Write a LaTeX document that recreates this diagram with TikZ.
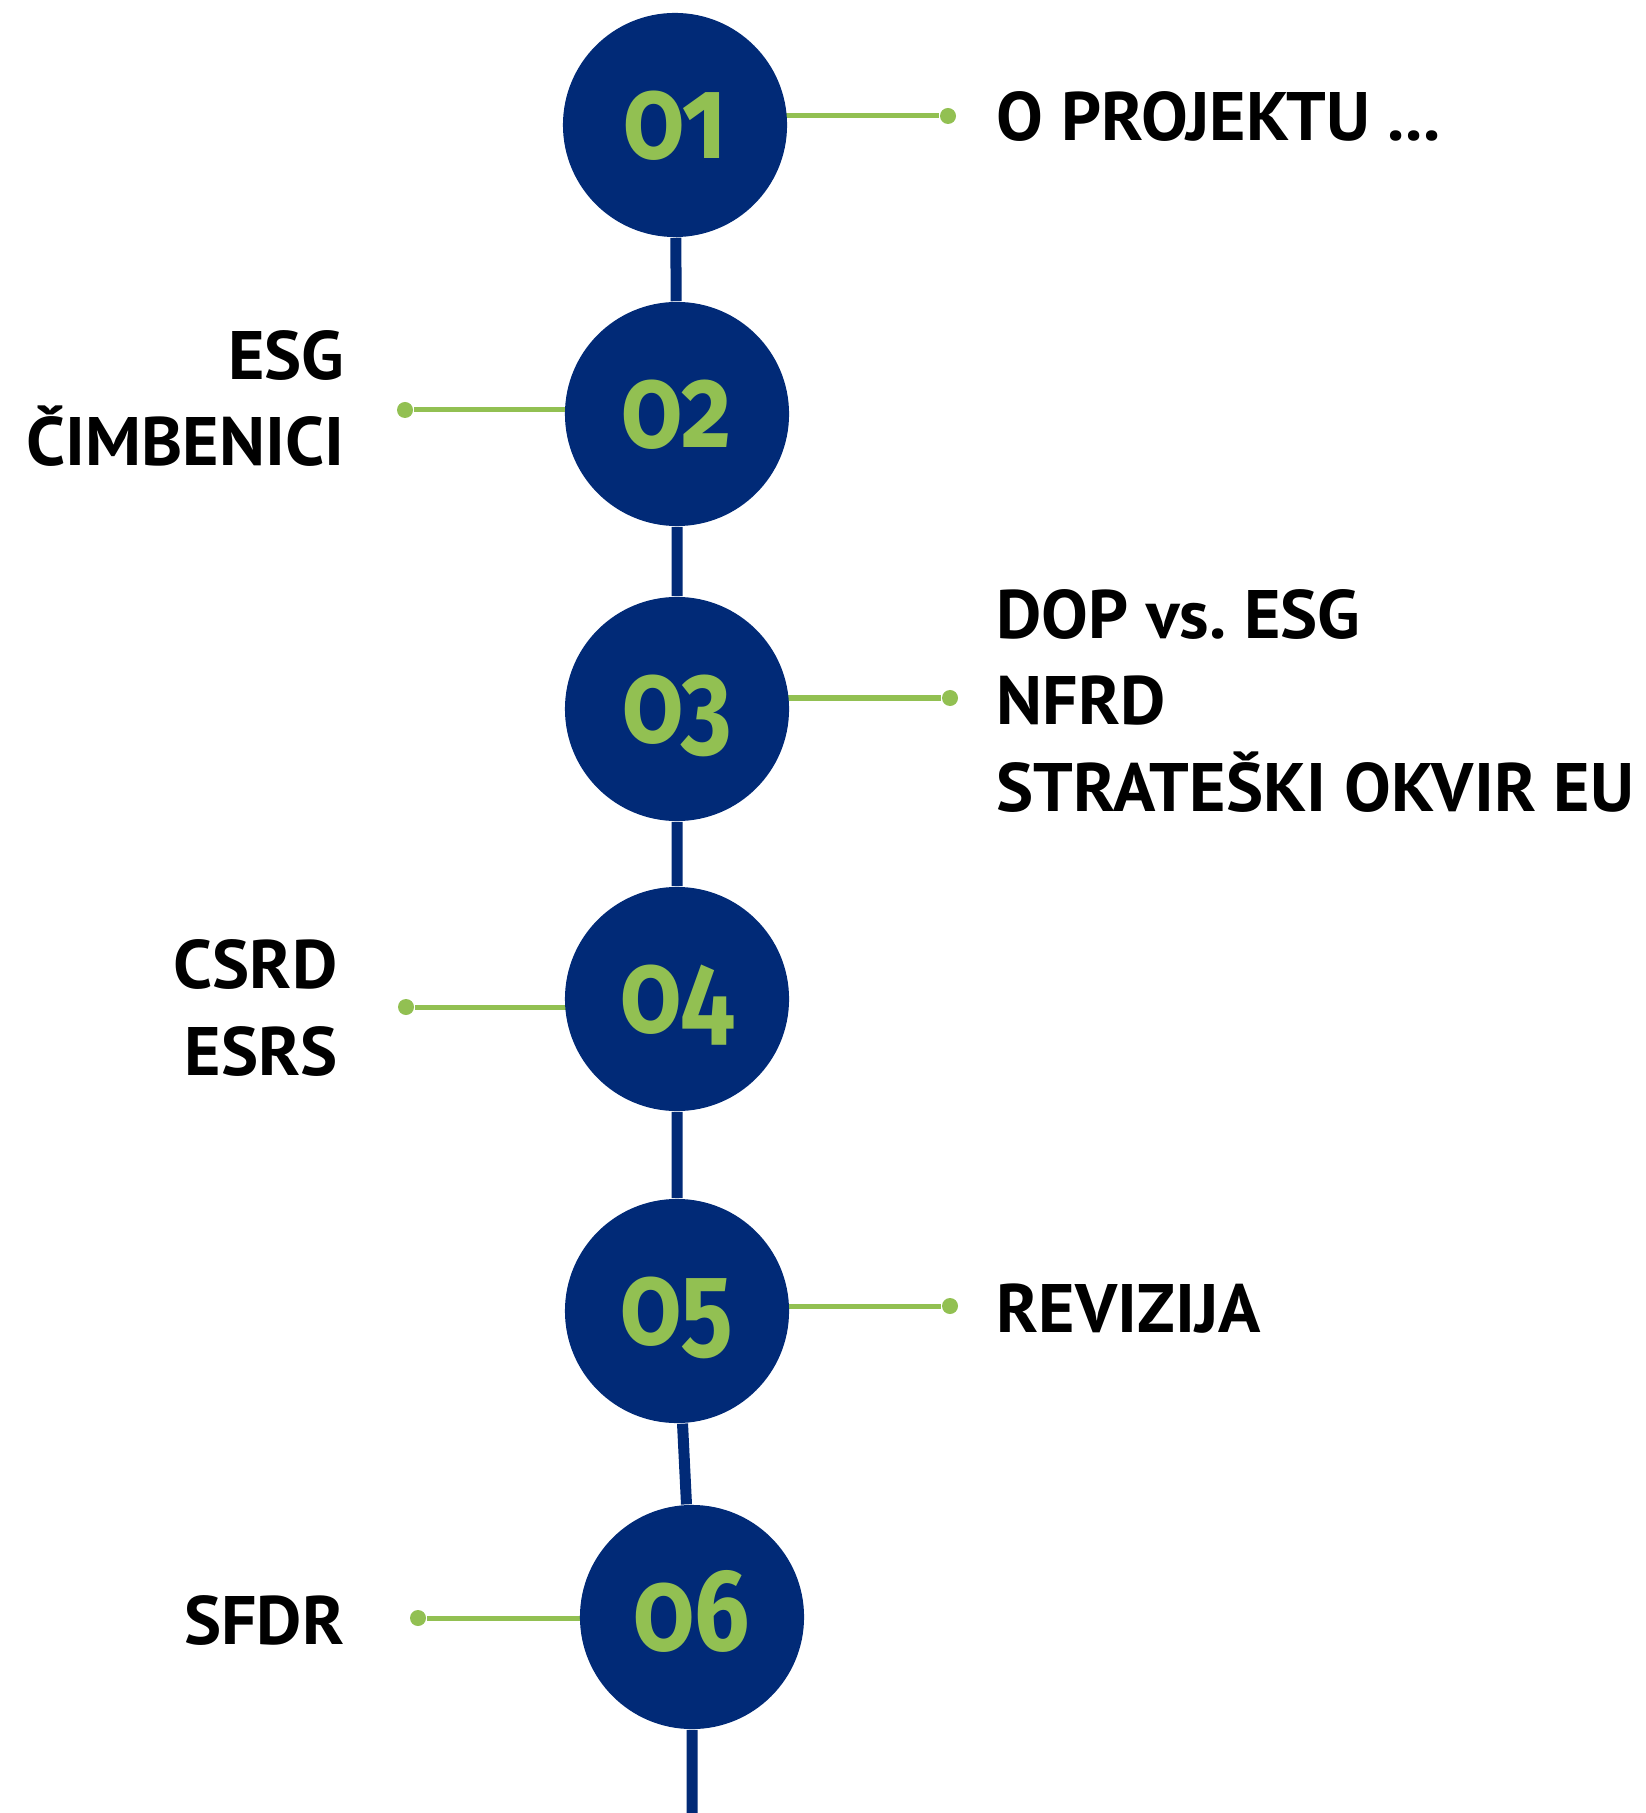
\documentclass[tikz,border=0pt]{standalone}
\usepackage{fontspec}
\setmainfont[FakeStretch=1.02]{PT Sans}
\newfontfamily\numfont[Numbers=OldStyle, FakeStretch=0.84]{Fira Sans}
\usetikzlibrary{backgrounds}
\definecolor{navy}{HTML}{012A77}
\definecolor{leaf}{HTML}{92C052}

\tikzset{
  stepnum/.style={circle, fill=navy, minimum size=2.24cm, inner sep=0pt,
    text=leaf, font=\numfont\bfseries\fontsize{33}{33}\selectfont,
    text height=0.66cm, text depth=0cm},
  pin/.style={circle, fill=leaf, minimum size=0.16cm, inner sep=0pt},
  topic/.style={inner sep=0pt, font=\bfseries\fontsize{19.5}{24.5}\selectfont},
  spine/.style={draw=navy, line width=0.11cm},
  twig/.style={draw=leaf, line width=0.05cm}
}

\begin{document}
\begin{tikzpicture}[x=0.01cm, y=-0.01cm]
        \useasboundingbox (0,0) rectangle (1645,1813);
        % circles
        \node[stepnum] (c1) at (675,125) {01};
        \node[stepnum] (c2) at (677,414) {02};
        \node[stepnum] (c3) at (677,709) {03};
        \node[stepnum] (c4) at (677,999) {04};
        \node[stepnum] (c5) at (677,1311) {05};
        \node[stepnum] (c6) at (692,1617) {06};
        \coordinate (end) at (692,1813);
        % dots
        \node[pin] (d1) at (948,116) {};
        \node[pin] (d2) at (405,410) {};
        \node[pin] (d3) at (950,698) {};
        \node[pin] (d4) at (406,1007) {};
        \node[pin] (d5) at (950,1306) {};
        \node[pin] (d6) at (418,1618) {};
        % labels (base = last line)
        \node[topic, anchor=base west] (t1) at (996,141) {O PROJEKTU ...};
        \node[topic, anchor=base east, align=right] (t2) at (345,466) {ESG\\ČIMBENICI};
        \node[topic, anchor=base west, align=left] (t3) at (996,811) {DOP vs.\ ESG\\NFRD\\STRATEŠKI OKVIR EU};
        \node[topic, anchor=base east, align=right] (t4) at (338,1075) {CSRD\\ESRS};
        \node[topic, anchor=base west] (t5) at (996,1332) {REVIZIJA};
        \node[topic, anchor=base east] (t6) at (345,1644) {SFDR};
        \begin{scope}[on background layer]
          \draw[spine] (c1) -- (c2) -- (c3) -- (c4) -- (c5) -- (c6) -- (end);
          \foreach \i in {1,...,6}
            \draw[twig] (c\i.center |- d\i) -- (d\i);
        \end{scope}
    \end{tikzpicture}
\end{document}
